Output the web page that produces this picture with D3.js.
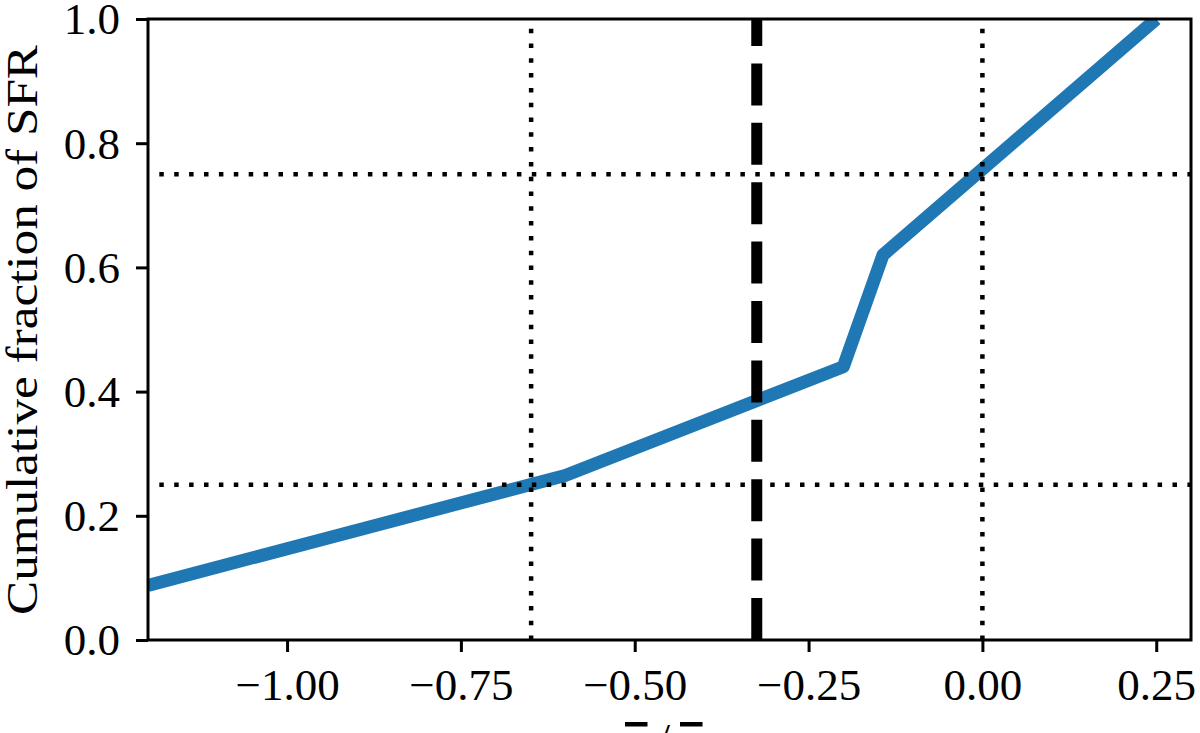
<!DOCTYPE html>
<html>
<head>
<meta charset="utf-8">
<script src="https://cdn.jsdelivr.net/npm/d3@7"></script>
<style>
  body { margin: 0; background: #fff; }
  svg text { font-family: "Liberation Serif", "DejaVu Serif", serif; fill: #000; }
</style>
</head>
<body>
<div id="chart"></div>
<script>
// cumulative SFR curve
var cdfX = [-1.2, -0.6, -0.2, -0.143, 0.25];
var cdfY = [0.088, 0.265, 0.44, 0.62, 1.0];

// reference lines
var quartileY = [0.25, 0.75];
var quartileX = [-0.649, 0.0];
var medianX = -0.3245;

var xTicks = [-1.0, -0.75, -0.5, -0.25, 0.0, 0.25];
var yTicks = [0.0, 0.2, 0.4, 0.6, 0.8, 1.0];

var W = 1200, H = 733,
    margin = {top: 19, right: 9, bottom: 93, left: 148},
    width = W - margin.left - margin.right,
    height = H - margin.top - margin.bottom;

var x = d3.scaleLinear().domain([-1.2, 0.3]).range([0, width]),
    y = d3.scaleLinear().domain([0, 1]).range([height, 0]);

var svg = d3.select("#chart").append("svg")
    .attr("width", W)
    .attr("height", H);

svg.append("defs").append("clipPath")
    .attr("id", "plot-clip")
    .append("rect")
    .attr("width", width)
    .attr("height", height);

var g = svg.append("g")
    .attr("transform", "translate(" + margin.left + "," + margin.top + ")");

var plot = g.append("g").attr("clip-path", "url(#plot-clip)");

var line = d3.line()
    .x(function (d) { return x(d[0]); })
    .y(function (d) { return y(d[1]); });

plot.append("path")
    .datum(d3.zip(cdfX, cdfY))
    .attr("d", line)
    .attr("fill", "none")
    .attr("stroke", "#1f77b4")
    .attr("stroke-width", 13)
    .attr("stroke-linejoin", "round");

// dotted quartile lines
plot.selectAll(".hq")
    .data(quartileY)
    .enter().append("line")
    .attr("class", "hq")
    .attr("x1", 0).attr("x2", width)
    .attr("y1", function (d) { return y(d); })
    .attr("y2", function (d) { return y(d); })
    .attr("stroke", "#000")
    .attr("stroke-width", 4.5)
    .attr("stroke-dasharray", "4.5,10.4")
    .attr("stroke-dashoffset", 3.6);

plot.selectAll(".vq")
    .data(quartileX)
    .enter().append("line")
    .attr("class", "vq")
    .attr("x1", function (d) { return x(d); })
    .attr("x2", function (d) { return x(d); })
    .attr("y1", height).attr("y2", 0)
    .attr("stroke", "#000")
    .attr("stroke-width", 4.5)
    .attr("stroke-dasharray", "4.5,10.3");

// median, thick dashed
plot.append("line")
    .attr("x1", x(medianX)).attr("x2", x(medianX))
    .attr("y1", height).attr("y2", 0)
    .attr("stroke", "#000")
    .attr("stroke-width", 11)
    .attr("stroke-dasharray", "42,17.4");

// axes
var xAxis = g.append("g")
    .attr("transform", "translate(0," + height + ")")
    .call(d3.axisBottom(x).tickValues(xTicks).tickFormat(d3.format(".2f"))
        .tickSize(12).tickPadding(16));

var yAxis = g.append("g")
    .call(d3.axisLeft(y).tickValues(yTicks).tickFormat(d3.format(".1f"))
        .tickSize(12).tickPadding(16));

[xAxis, yAxis].forEach(function (a) {
    a.select(".domain").remove();
    a.selectAll(".tick line").attr("stroke", "#000").attr("stroke-width", 3);
    a.selectAll(".tick text")
        .style("font-family", "'Liberation Serif', serif")
        .attr("font-size", 45);
});
xAxis.selectAll(".tick text").attr("dy", "0.72em");
yAxis.selectAll(".tick text").attr("dy", "0.33em");

// frame
g.append("rect")
    .attr("width", width)
    .attr("height", height)
    .attr("fill", "none")
    .attr("stroke", "#000")
    .attr("stroke-width", 3);

// y label
svg.append("text")
    .attr("transform", "translate(37," + 330 + ")rotate(-90)")
    .attr("text-anchor", "middle")
    .attr("font-size", 45)
    .attr("textLength", 570)
    .attr("lengthAdjust", "spacingAndGlyphs")
    .text("Cumulative fraction of SFR");

// x label, mostly below the page edge
var xl = svg.append("text")
    .attr("x", 625)
    .attr("y", 766)
    .attr("font-size", 45);
xl.append("tspan").style("text-decoration", "overline").text("x");
xl.append("tspan").attr("dx", 10).attr("dy", -12).text("/");
xl.append("tspan").attr("dx", 10).attr("dy", 12).style("text-decoration", "overline").text("x");
</script>
</body>
</html>
